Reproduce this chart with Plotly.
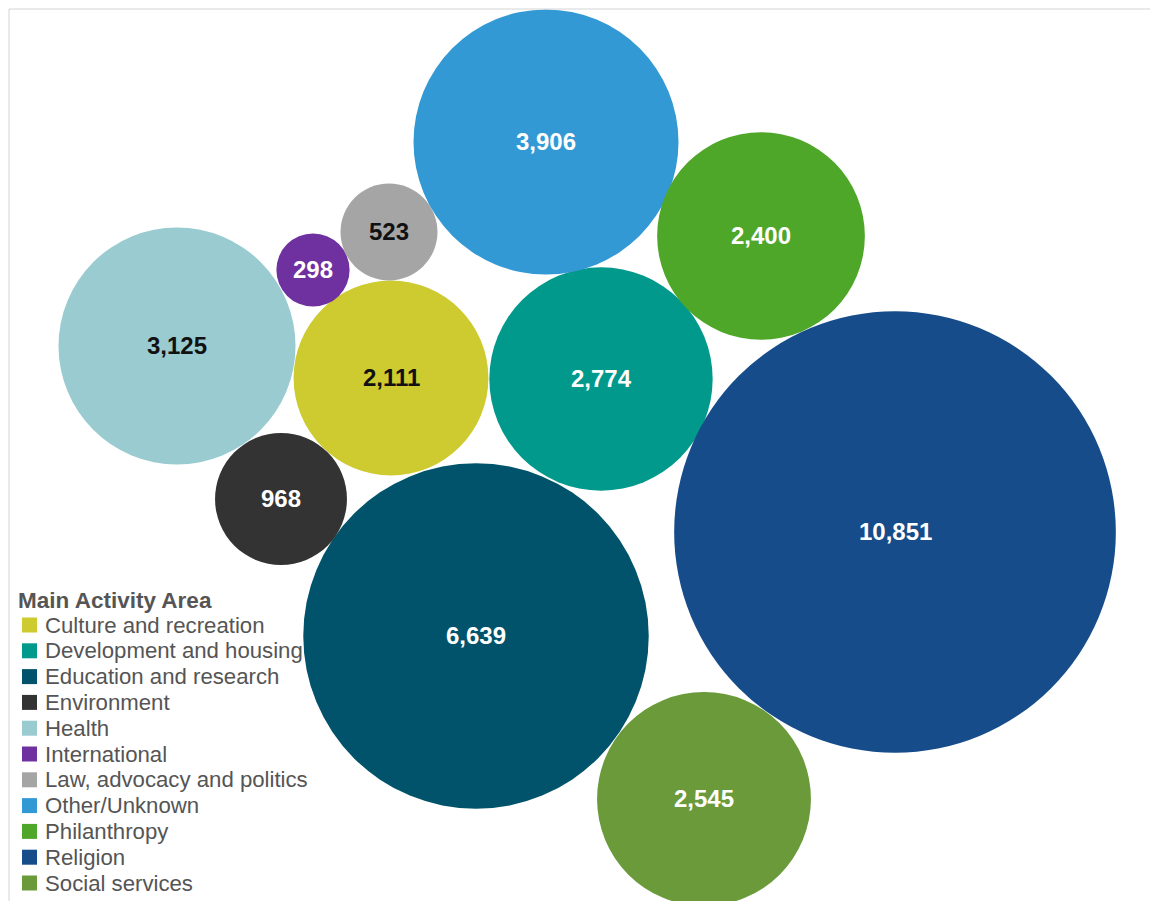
import plotly.graph_objects as go

# Main activity areas and their counts
categories = [
    "Culture and recreation", "Development and housing", "Education and research",
    "Environment", "Health", "International", "Law, advocacy and politics",
    "Other/Unknown", "Philanthropy", "Religion", "Social services",
]
counts = [2111, 2774, 6639, 968, 3125, 298, 523, 3906, 2400, 10851, 2545]

# Packed-bubble layout: centre of each bubble (plot units)
center_x = [391, 601, 476, 281, 177, 313, 389, 546, 761, 895, 704]
center_y = [378, 379, 636, 499, 346, 270, 232, 142, 236, 532, 799]

colors = ["#CDCB2F", "#00998C", "#00536B", "#333333", "#99CBD0", "#6F30A0",
          "#A5A5A5", "#3399D4", "#4FA72A", "#154C89", "#6A9A3A"]
label_colors = ["#111111", "#FFFFFF", "#FFFFFF", "#FFFFFF", "#111111", "#FFFFFF",
                "#111111", "#FFFFFF", "#FFFFFF", "#FFFFFF", "#FFFFFF"]

W, H = 1150, 901
SCALE = 2.12  # radius per sqrt(count)
FONT = "Liberation Sans, Arial"

fig = go.Figure()

shapes = []
for v, cx, cy, c in zip(counts, center_x, center_y, colors):
    r = SCALE * v ** 0.5
    shapes.append(dict(type="circle", xref="x", yref="y",
                       x0=cx - r, x1=cx + r, y0=cy - r, y1=cy + r,
                       fillcolor=c, line=dict(width=0), layer="below"))

# invisible markers carry the hover info for each bubble
fig.add_trace(go.Scatter(
    x=center_x, y=center_y, mode="markers",
    marker=dict(size=1, opacity=0),
    hovertext=[f"{n}: {v:,}" for n, v in zip(categories, counts)],
    hoverinfo="text", showlegend=False,
))

annotations = []
for v, cx, cy, tc in zip(counts, center_x, center_y, label_colors):
    annotations.append(dict(x=cx, y=cy, xref="x", yref="y", text=f"<b>{v:,}</b>",
                            showarrow=False, xanchor="center", yanchor="middle",
                            yshift=1, font=dict(family=FONT, size=24, color=tc)))

# panel frame
shapes.append(dict(type="line", xref="paper", yref="paper", x0=9 / W, x1=1, y0=1 - 9 / H,
                   y1=1 - 9 / H, line=dict(color="#D4D4D4", width=1)))
shapes.append(dict(type="line", xref="paper", yref="paper", x0=9 / W, x1=9 / W, y0=0,
                   y1=1 - 9 / H, line=dict(color="#D4D4D4", width=1)))

# legend
annotations.append(dict(x=16, y=600, xref="x", yref="y", text="<b>Main Activity Area</b>",
                        showarrow=False, xanchor="left", yanchor="middle",
                        font=dict(family=FONT, size=22.5, color="#555555")))
row0, step = 625, 25.8
for i, (name, c) in enumerate(zip(categories, colors)):
    y = row0 + i * step
    shapes.append(dict(type="rect", xref="x", yref="y", x0=22, x1=37, y0=y - 7.5, y1=y + 7.5,
                       fillcolor=c, line=dict(width=0)))
    annotations.append(dict(x=43, y=y, xref="x", yref="y", text=name, showarrow=False,
                            xanchor="left", yanchor="middle",
                            font=dict(family=FONT, size=22.2, color="#555555")))

fig.update_layout(
    width=W, height=H, margin=dict(l=0, r=0, t=0, b=0),
    paper_bgcolor="white", plot_bgcolor="white",
    xaxis=dict(range=[0, W], visible=False, fixedrange=True),
    yaxis=dict(range=[H, 0], visible=False, fixedrange=True),
    shapes=shapes, annotations=annotations, showlegend=False,
)

fig.write_html("out.html")
